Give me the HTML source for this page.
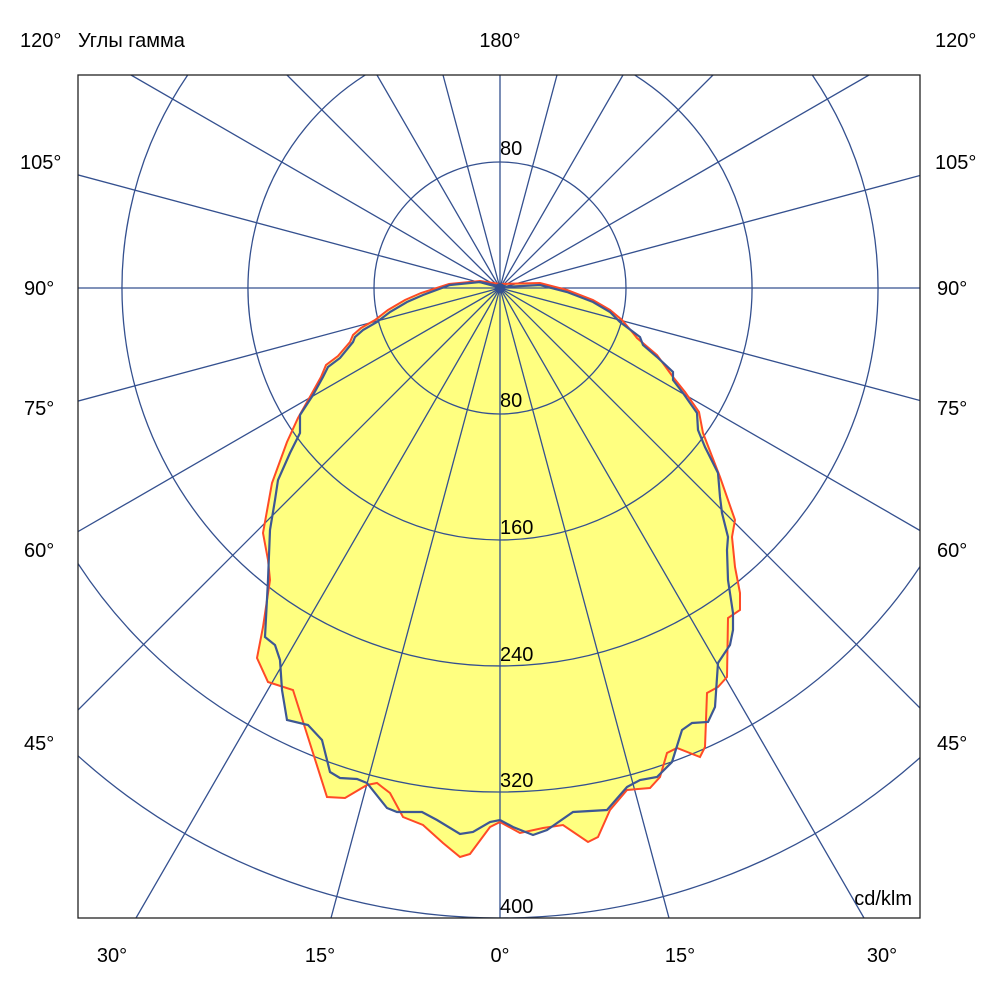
<!DOCTYPE html>
<html><head><meta charset="utf-8"><style>
html,body{margin:0;padding:0;background:#fff;width:1000px;height:1000px;overflow:hidden}
svg{display:block}
text{font-family:"Liberation Sans","DejaVu Sans",sans-serif;font-size:20px;fill:#000}
</style></head><body>
<svg width="1000" height="1000" viewBox="0 0 1000 1000" xmlns="http://www.w3.org/2000/svg">
<defs><clipPath id="c"><rect x="78" y="75" width="842" height="843"/></clipPath></defs>
<rect width="1000" height="1000" fill="#fff"/>
<g clip-path="url(#c)">
<g fill="#ffff80" stroke="none">
<polygon points="500,284 540,283 567,290 593,300 610,310 622,320 633,333 637,338 657,355 673,377 685,392 699,412 703,433 720,477 735,520 732,537 735,567 740,593 740,610 728,618 727,677 718,687 707,693 705,747 700,757 677,748 667,753 660,777 650,788 627,790 610,810 598,837 588,842 563,825 543,828 520,833 500,822 490,827 470,854 460,857 443,843 423,825 403,817 390,793 377,783 367,785 345,798 327,797 313,753 293,690 268,682 257,658 263,627 270,580 268,560 263,533 272,483 287,442 298,418 311,395 321,377 326,365 338,356 350,342 353,335 361,328 375,320 388,310 405,300 421,293 449,284 480,281"/>
<polygon points="503,287 540,285 567,292 593,302 610,312 620,322 640,337 643,345 657,357 673,372 673,380 683,393 697,413 698,430 705,447 718,473 720,497 722,513 728,537 727,550 728,580 733,613 733,630 730,645 718,663 715,707 708,722 692,723 682,730 672,762 657,777 640,780 627,787 607,810 573,812 547,830 533,835 513,827 500,820 490,822 473,832 460,834 437,820 422,812 397,812 387,808 367,783 357,779 340,778 330,772 322,740 308,725 287,720 282,690 280,660 275,645 265,637 268,580 270,530 275,500 278,480 290,453 300,433 300,415 313,395 323,377 328,367 340,358 353,342 355,337 363,330 377,322 390,312 407,302 423,295 450,285 480,282"/>
</g>
<g stroke="#34508f" stroke-width="1.3" fill="none">
<circle cx="500" cy="288" r="126"/>
<path d="M634.7,75 A252,252 0 1 1 365.3,75"/>
<path d="M812.3,75 A378,378 0 1 1 187.7,75"/>
<path d="M78,563.6 A504,504 0 0 0 920,566.6"/>
<path d="M78,755.8 A630,630 0 0 0 920,757.6"/>
<line x1="500" y1="288" x2="500" y2="918"/>
<line x1="500" y1="288" x2="500" y2="75"/>
<line x1="78" y1="288" x2="920" y2="288"/>
<line x1="500" y1="288" x2="669" y2="918"/><line x1="500" y1="288" x2="331" y2="918"/>
<line x1="500" y1="288" x2="864" y2="918"/><line x1="500" y1="288" x2="136" y2="918"/>
<line x1="500" y1="288" x2="920" y2="708"/><line x1="500" y1="288" x2="78" y2="710"/>
<line x1="500" y1="288" x2="920" y2="530.5"/><line x1="500" y1="288" x2="78" y2="531.6"/>
<line x1="500" y1="288" x2="920" y2="400.5"/><line x1="500" y1="288" x2="78" y2="401.1"/>
<line x1="500" y1="288" x2="920" y2="175.5"/><line x1="500" y1="288" x2="78" y2="174.9"/>
<line x1="500" y1="288" x2="869" y2="75"/><line x1="500" y1="288" x2="131" y2="75"/>
<line x1="500" y1="288" x2="713" y2="75"/><line x1="500" y1="288" x2="287" y2="75"/>
<line x1="500" y1="288" x2="623" y2="75"/><line x1="500" y1="288" x2="377" y2="75"/>
<line x1="500" y1="288" x2="557" y2="75"/><line x1="500" y1="288" x2="443" y2="75"/>
</g>
<polygon points="500,284 540,283 567,290 593,300 610,310 622,320 633,333 637,338 657,355 673,377 685,392 699,412 703,433 720,477 735,520 732,537 735,567 740,593 740,610 728,618 727,677 718,687 707,693 705,747 700,757 677,748 667,753 660,777 650,788 627,790 610,810 598,837 588,842 563,825 543,828 520,833 500,822 490,827 470,854 460,857 443,843 423,825 403,817 390,793 377,783 367,785 345,798 327,797 313,753 293,690 268,682 257,658 263,627 270,580 268,560 263,533 272,483 287,442 298,418 311,395 321,377 326,365 338,356 350,342 353,335 361,328 375,320 388,310 405,300 421,293 449,284 480,281" fill="none" stroke="#ff4a26" stroke-width="2"/>
<polygon points="503,287 540,285 567,292 593,302 610,312 620,322 640,337 643,345 657,357 673,372 673,380 683,393 697,413 698,430 705,447 718,473 720,497 722,513 728,537 727,550 728,580 733,613 733,630 730,645 718,663 715,707 708,722 692,723 682,730 672,762 657,777 640,780 627,787 607,810 573,812 547,830 533,835 513,827 500,820 490,822 473,832 460,834 437,820 422,812 397,812 387,808 367,783 357,779 340,778 330,772 322,740 308,725 287,720 282,690 280,660 275,645 265,637 268,580 270,530 275,500 278,480 290,453 300,433 300,415 313,395 323,377 328,367 340,358 353,342 355,337 363,330 377,322 390,312 407,302 423,295 450,285 480,282" fill="none" stroke="#3d5794" stroke-width="2.2"/>
<circle cx="500" cy="288" r="5" fill="#34508f"/>
</g>
<rect x="78" y="75" width="842" height="843" fill="none" stroke="#222" stroke-width="1.3"/>
<text x="20" y="47">120°</text><text x="78" y="47">Углы гамма</text>
<text x="500" y="47" text-anchor="middle">180°</text><text x="935" y="47">120°</text>
<text x="20" y="169">105°</text><text x="935" y="169">105°</text>
<text x="24" y="295">90°</text><text x="937" y="295">90°</text>
<text x="24" y="415">75°</text><text x="937" y="415">75°</text>
<text x="24" y="557">60°</text><text x="937" y="557">60°</text>
<text x="24" y="750">45°</text><text x="937" y="750">45°</text>
<text x="112" y="962" text-anchor="middle">30°</text><text x="320" y="962" text-anchor="middle">15°</text>
<text x="500" y="962" text-anchor="middle">0°</text><text x="680" y="962" text-anchor="middle">15°</text>
<text x="882" y="962" text-anchor="middle">30°</text>
<text x="500" y="155">80</text><text x="500" y="407">80</text><text x="500" y="534">160</text>
<text x="500" y="661">240</text><text x="500" y="787">320</text><text x="500" y="913">400</text>
<text x="912" y="905" text-anchor="end">cd/klm</text>
</svg>
</body></html>
